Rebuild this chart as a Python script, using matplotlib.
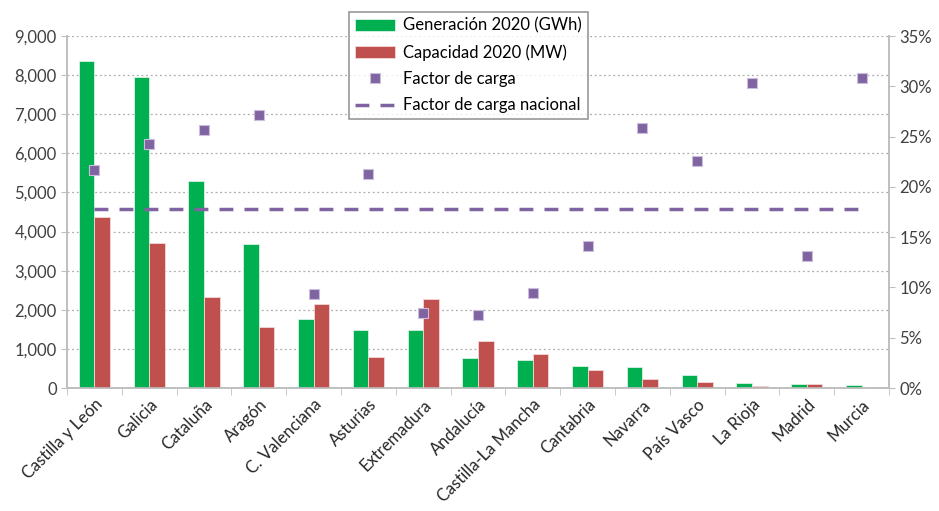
import matplotlib.pyplot as plt
import numpy as np
from matplotlib.ticker import FuncFormatter, MultipleLocator

plt.rcParams["font.family"] = ["Lato", "DejaVu Sans"]
plt.rcParams["font.size"] = 11

regiones = ["Castilla y León", "Galicia", "Cataluña", "Aragón", "C. Valenciana",
            "Asturias", "Extremadura", "Andalucía", "Castilla-La Mancha", "Cantabria",
            "Navarra", "País Vasco", "La Rioja", "Madrid", "Murcia"]
generacion = [8350, 7940, 5300, 3690, 1760, 1495, 1480, 775, 715, 560,
              530, 330, 135, 110, 75]
capacidad = [4380, 3715, 2335, 1550, 2140, 785, 2270, 1200, 860, 450,
             225, 165, 50, 95, 20]
factor_carga = [21.7, 24.3, 25.7, 27.1, 9.3, 21.3, 7.5, 7.3, 9.4, 14.1,
                25.9, 22.6, 30.3, 13.1, 30.8]
factor_nacional = 17.8

verde = "#00B050"
rojo = "#C0504D"
morado = "#8064A2"
gris = "#BFBFBF"

fig = plt.figure(figsize=(9.39, 5.11), dpi=100)
ax = fig.add_axes([0.0714, 0.2407, 0.8754, 0.6888])
ax2 = ax.twinx()

x = np.arange(len(regiones))
w = 0.285
b1 = ax.bar(x - w / 2, generacion, w, color=verde, edgecolor="#d9f2e3", lw=0.6,
            label="Generación 2020 (GWh)", zorder=3)
b2 = ax.bar(x + w / 2, capacidad, w, color=rojo, edgecolor="#f2d9d9", lw=0.6,
            label="Capacidad 2020 (MW)", zorder=3)

sc, = ax2.plot(x, factor_carga, ls="none", marker="s", ms=6.5, color=morado,
               mec="#c9bedb", mew=0.8, label="Factor de carga", zorder=4)
ln, = ax2.plot([x[0], x[-1]], [factor_nacional] * 2, ls=(0, (4, 3.2)), lw=2.5,
               color=morado, label="Factor de carga nacional", zorder=4)

ax.set_ylim(0, 9000)
ax.yaxis.set_major_locator(MultipleLocator(1000))
ax.yaxis.set_major_formatter(FuncFormatter(lambda v, p: f"{v:,.0f}"))
ax2.set_ylim(0, 35)
ax2.yaxis.set_major_locator(MultipleLocator(5))
ax2.yaxis.set_major_formatter(FuncFormatter(lambda v, p: f"{v:.0f}%"))

ax.set_xlim(-0.5, len(regiones) - 0.5)
ax.set_xticks(x)
ax.set_xticklabels(regiones, rotation=45, ha="right", rotation_mode="anchor")
ax.set_xticks(np.arange(-0.5, len(regiones)), minor=True)
ax.tick_params(axis="x", which="major", length=0, pad=6)
ax.tick_params(axis="x", which="minor", length=5, color=gris, direction="out")

ax.grid(axis="y", ls=(0, (1.5, 2.2)), color="#ADADAD", lw=0.9, zorder=0)
ax.set_axisbelow(True)

for a in (ax, ax2):
    a.spines["top"].set_visible(False)
    for s in ("left", "right", "bottom"):
        a.spines[s].set_color(gris)
        a.spines[s].set_linewidth(1.2)
    a.tick_params(axis="y", length=4, color=gris, labelcolor="#404040", labelsize=12)
ax.tick_params(axis="x", labelcolor="#262626", labelsize=12)

leg = fig.legend(handles=[b1, b2, sc, ln], loc="upper center",
                 bbox_to_anchor=(0.499, 0.993), frameon=True, fancybox=False,
                 edgecolor="#7f7f7f", fontsize=12, handlelength=2.4,
                 labelspacing=0.62, borderpad=0.35, handletextpad=0.5)
leg.get_frame().set_linewidth(1.2)

fig.savefig("out.png", dpi=100)
